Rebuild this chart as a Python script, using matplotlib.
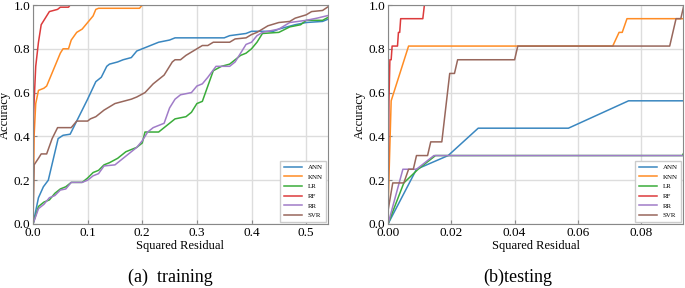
import matplotlib
matplotlib.use("Agg")
import matplotlib.pyplot as plt
import numpy as np

plt.rcParams['font.family'] = ['Liberation Serif', 'DejaVu Serif']

models = ["ANN", "KNN", "LR", "RF", "RR", "SVR"]
colors = ["#3a87c0", "#ff8c24", "#3aac3a", "#dc3b3c", "#a07cc8", "#98675c"]

# training curves (squared residual, accuracy)
train_ann_x = [0, 0.01, 0.019, 0.028, 0.046, 0.055, 0.068, 0.08, 0.1, 0.115, 0.125, 0.135, 0.14, 0.155,
               0.165, 0.18, 0.19, 0.2, 0.21, 0.23, 0.25, 0.26, 0.35, 0.36, 0.39, 0.4, 0.44, 0.45, 0.48,
               0.5, 0.53, 0.545]
train_ann_y = [0, 0.12, 0.17, 0.2, 0.39, 0.405, 0.41, 0.47, 0.57, 0.65, 0.67, 0.72, 0.73, 0.74,
               0.75, 0.76, 0.79, 0.80, 0.81, 0.83, 0.84, 0.85, 0.85, 0.86, 0.87, 0.88, 0.88, 0.89, 0.91,
               0.92, 0.925, 0.94]
train_knn_x = [0, 0.002, 0.005, 0.01, 0.02, 0.025, 0.03, 0.04, 0.045, 0.05, 0.055, 0.065, 0.07, 0.08,
               0.09, 0.1, 0.11, 0.115, 0.12, 0.195, 0.2]
train_knn_y = [0, 0.4, 0.55, 0.61, 0.62, 0.63, 0.66, 0.72, 0.75, 0.78, 0.80, 0.80, 0.84, 0.875,
               0.89, 0.92, 0.95, 0.98, 0.985, 0.985, 1.0]
train_lr_x = [0, 0.01, 0.02, 0.03, 0.04, 0.05, 0.06, 0.07, 0.09, 0.1, 0.11, 0.12, 0.13, 0.14, 0.155,
              0.17, 0.19, 0.2, 0.205, 0.23, 0.24, 0.26, 0.28, 0.29, 0.3, 0.31, 0.33, 0.345, 0.36, 0.38,
              0.39, 0.4, 0.41, 0.42, 0.45, 0.47, 0.49, 0.5, 0.53, 0.545]
train_lr_y = [0, 0.08, 0.1, 0.11, 0.14, 0.16, 0.17, 0.19, 0.19, 0.21, 0.235, 0.245, 0.27, 0.28, 0.3,
              0.33, 0.35, 0.37, 0.42, 0.42, 0.44, 0.48, 0.49, 0.51, 0.55, 0.56, 0.70, 0.72, 0.73, 0.77,
              0.78, 0.8, 0.83, 0.87, 0.875, 0.9, 0.91, 0.93, 0.93, 0.95]
train_rf_x = [0, 0.001, 0.005, 0.01, 0.015, 0.02, 0.025, 0.03, 0.045, 0.05, 0.065, 0.068]
train_rf_y = [0, 0.5, 0.72, 0.83, 0.91, 0.93, 0.95, 0.97, 0.98, 0.99, 0.99, 1.0]
train_rr_x = [0, 0.01, 0.02, 0.03, 0.04, 0.05, 0.06, 0.07, 0.09, 0.1, 0.11, 0.12, 0.13, 0.15, 0.17,
              0.19, 0.2, 0.21, 0.22, 0.24, 0.25, 0.26, 0.27, 0.29, 0.3, 0.31, 0.32, 0.335, 0.36, 0.37,
              0.39, 0.4, 0.41, 0.42, 0.45, 0.47, 0.5, 0.52, 0.545]
train_rr_y = [0, 0.07, 0.09, 0.12, 0.13, 0.155, 0.16, 0.19, 0.19, 0.2, 0.22, 0.23, 0.265, 0.27, 0.31,
              0.35, 0.38, 0.42, 0.44, 0.46, 0.53, 0.57, 0.59, 0.6, 0.63, 0.64, 0.67, 0.72, 0.72, 0.74,
              0.82, 0.83, 0.86, 0.875, 0.89, 0.92, 0.93, 0.94, 0.955]
train_svr_x = [0, 0.002, 0.01, 0.015, 0.025, 0.035, 0.045, 0.07, 0.08, 0.1, 0.105, 0.115, 0.13, 0.15,
               0.165, 0.18, 0.19, 0.205, 0.22, 0.23, 0.24, 0.255, 0.26, 0.27, 0.28, 0.3, 0.31, 0.32,
               0.33, 0.36, 0.37, 0.39, 0.4, 0.41, 0.42, 0.43, 0.45, 0.47, 0.48, 0.5, 0.51, 0.53, 0.545]
train_svr_y = [0, 0.27, 0.3, 0.32, 0.32, 0.39, 0.44, 0.44, 0.47, 0.47, 0.48, 0.49, 0.52, 0.55,
               0.56, 0.57, 0.58, 0.6, 0.64, 0.66, 0.68, 0.74, 0.75, 0.75, 0.77, 0.80, 0.815, 0.815,
               0.83, 0.83, 0.845, 0.85, 0.865, 0.875, 0.89, 0.905, 0.92, 0.925, 0.94, 0.955, 0.97, 0.975, 1.0]

# testing curves
test_ann_x = [0, 0.009, 0.019, 0.0285, 0.057, 0.076, 0.094]
test_ann_y = [0, 0.25, 0.3125, 0.4375, 0.4375, 0.5625, 0.5625]
test_knn_x = [0, 0.001, 0.0065, 0.071, 0.073, 0.074, 0.0755, 0.094]
test_knn_y = [0.06, 0.5625, 0.8125, 0.8125, 0.875, 0.875, 0.9375, 0.9375]
test_lr_x = [0, 0.005, 0.0095, 0.015, 0.093, 0.094]
test_lr_y = [0, 0.1875, 0.25, 0.3125, 0.3125, 0.34]
test_rf_x = [0, 0.0003, 0.0006, 0.001, 0.0013, 0.003, 0.0033, 0.0037, 0.004, 0.011, 0.0115]
test_rf_y = [0, 0.5625, 0.75, 0.75, 0.8125, 0.8125, 0.875, 0.875, 0.9375, 0.9375, 1.0]
test_rr_x = [0, 0.0047, 0.009, 0.0145, 0.094]
test_rr_y = [0, 0.25, 0.25, 0.3125, 0.3125]
test_svr_x = [0, 0.0015, 0.005, 0.0065, 0.008, 0.009, 0.0125, 0.0135, 0.017, 0.019, 0.0195, 0.021,
              0.022, 0.040, 0.041, 0.089, 0.091, 0.0925, 0.0935]
test_svr_y = [0.06, 0.1875, 0.1875, 0.25, 0.25, 0.3125, 0.3125, 0.375, 0.375, 0.625, 0.6875, 0.6875,
              0.75, 0.75, 0.8125, 0.8125, 0.9375, 0.9375, 1.0]

train = [(train_ann_x, train_ann_y), (train_knn_x, train_knn_y), (train_lr_x, train_lr_y),
         (train_rf_x, train_rf_y), (train_rr_x, train_rr_y), (train_svr_x, train_svr_y)]
test = [(test_ann_x, test_ann_y), (test_knn_x, test_knn_y), (test_lr_x, test_lr_y),
        (test_rf_x, test_rf_y), (test_rr_x, test_rr_y), (test_svr_x, test_svr_y)]

fig = plt.figure(figsize=(6.85, 2.88), dpi=100)
ax1 = fig.add_axes([33 / 685, 1 - 224 / 288, 295 / 685, 219 / 288])
ax2 = fig.add_axes([388 / 685, 1 - 224 / 288, 295 / 685, 219 / 288])

for ax, data, xmax, xt in [(ax1, train, 0.54, [0, 0.1, 0.2, 0.3, 0.4, 0.5]),
                           (ax2, test, 0.0932, [0, 0.02, 0.04, 0.06, 0.08])]:
    for (x, y), name, c in zip(data, models, colors):
        ax.plot(x, y, color=c, lw=1.1, label=name)
    ax.set_xlim(0, xmax)
    ax.set_ylim(0, 1.0)
    ax.set_xticks(xt)
    ax.set_yticks([0, 0.2, 0.4, 0.6, 0.8, 1.0])
    ax.xaxis.set_major_formatter(matplotlib.ticker.FormatStrFormatter('%.1f' if xmax > 0.2 else '%.2f'))
    ax.yaxis.set_major_formatter(matplotlib.ticker.FormatStrFormatter('%.1f'))
    ax.grid(True, color='#dddddd', lw=1.0)
    ax.set_axisbelow(True)
    ax.tick_params(direction='in', labelsize=9.5, length=3, color='#888888', pad=2)
    for s in ax.spines.values():
        s.set_color('#888888')
    ax.set_xlabel("Squared Residual", fontsize=9, labelpad=1)
    ax.set_ylabel("Accuracy", fontsize=9, labelpad=2)
    ax.legend(loc='lower right', fontsize=5, handlelength=2.6, labelspacing=0.55,
              fancybox=False, framealpha=1, edgecolor='#cccccc', borderpad=0.5,
              borderaxespad=0.3, handletextpad=0.8)

fig.text(170 / 685, 1 - 277 / 288, "(a)  training", fontsize=13, ha='center', va='center')
fig.text(518 / 685, 1 - 277 / 288, "(b)testing", fontsize=13, ha='center', va='center')

fig.savefig("out.png", dpi=100)
